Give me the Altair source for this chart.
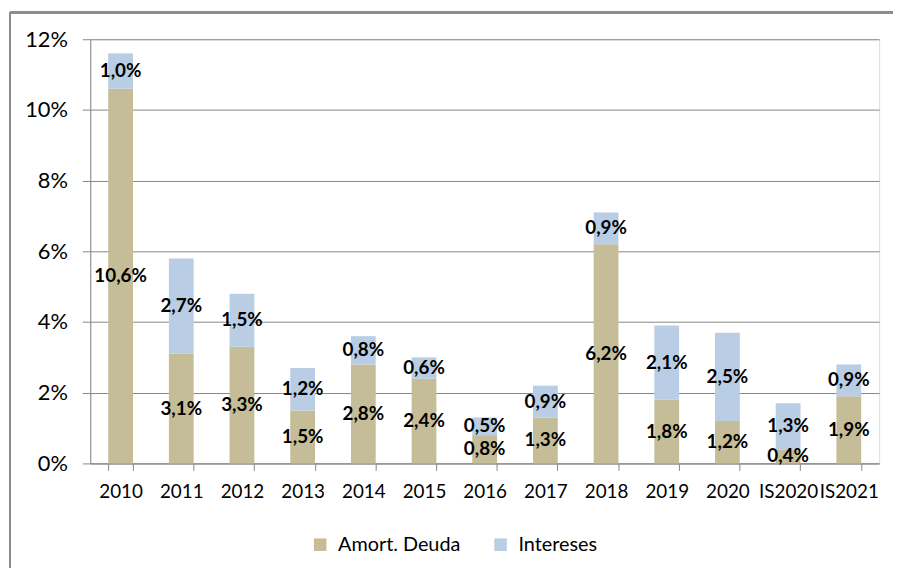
import altair as alt
import pandas as pd

categories = ["2010", "2011", "2012", "2013", "2014", "2015", "2016", "2017",
              "2018", "2019", "2020", "IS2020", "IS2021"]
amort = [10.6, 3.1, 3.3, 1.5, 2.8, 2.4, 0.8, 1.3, 6.2, 1.8, 1.2, 0.4, 1.9]
intereses = [1.0, 2.7, 1.5, 1.2, 0.8, 0.6, 0.5, 0.9, 0.9, 2.1, 2.5, 1.3, 0.9]
series = ["Amort. Deuda", "Intereses"]
colors = ["#C4BD97", "#B9CDE5"]

rows = []
for i, c in enumerate(categories):
    rows.append({"cat": c, "serie": series[0], "v": amort[i], "ord": 0})
    rows.append({"cat": c, "serie": series[1], "v": intereses[i], "ord": 1})
df = pd.DataFrame(rows)

W, H = 796, 428
FONT = "Lato"

base = alt.Chart(df).transform_stack(
    stack="v", groupby=["cat"], as_=["v0", "v1"],
    sort=[alt.SortField("ord", order="ascending")]
).transform_calculate(
    mid="(datum.v0 + datum.v1) / 2",
    lbl="replace(format(datum.v, '.1f'), '.', ',') + '%'"
)

xenc = alt.X("cat:N", sort=categories, title=None,
             scale=alt.Scale(paddingInner=0.6, paddingOuter=0.3),
             axis=alt.Axis(labelAngle=0, labelFont=FONT, labelFontSize=19,
                           labelColor="#000", domainColor="#868686",
                           tickColor="#868686", tickSize=7, tickBand="extent",
                           labelPadding=12))

bars = base.mark_bar(size=25).encode(
    x=xenc,
    y=alt.Y("v0:Q", title=None,
            scale=alt.Scale(domain=[0, 12], nice=False),
            axis=alt.Axis(values=[0, 2, 4, 6, 8, 10, 12],
                          labelExpr="datum.value + '%'",
                          labelFont=FONT, labelFontSize=22, labelColor="#000",
                          grid=True, gridColor="#868686", gridWidth=1,
                          domainColor="#868686", tickColor="#868686",
                          tickSize=8, labelPadding=15)),
    y2="v1:Q",
    color=alt.Color("serie:N", scale=alt.Scale(domain=series, range=colors),
                    legend=alt.Legend(title=None, orient="none",
                                      direction="horizontal",
                                      legendX=222, legendY=500,
                                      symbolType="square", symbolSize=160,
                                      symbolStrokeWidth=0,
                                      labelFont=FONT, labelFontSize=20,
                                      labelColor="#000", columnPadding=30,
                                      labelOffset=8)),
    order=alt.Order("ord:Q"),
)

labels = base.mark_text(font=FONT, fontSize=19, fontWeight="bold",
                        color="#000", baseline="middle", align="center").encode(
    x=alt.X("cat:N", sort=categories),
    y=alt.Y("mid:Q"),
    text="lbl:N",
)

frame_top = alt.Chart(df).mark_rule(stroke="#8c8c8c", strokeWidth=1.5,
                                    clip=False).encode(
    x=alt.value(-81), x2=alt.value(900), y=alt.value(-27),
)
frame_left = alt.Chart(df).mark_rule(stroke="#8c8c8c", strokeWidth=1.5,
                                     clip=False).encode(
    x=alt.value(-81), y=alt.value(-27), y2=alt.value(700),
)

chart = alt.layer(bars, labels, frame_top, frame_left).properties(
    width=W, height=H,
    autosize=alt.AutoSizeParams(type="none"),
    padding={"left": 83, "top": 29, "right": 14, "bottom": 103},
).configure_view(stroke=None).configure(background="white")

chart.save("out.html", embed_options={"renderer": "svg", "actions": False})
